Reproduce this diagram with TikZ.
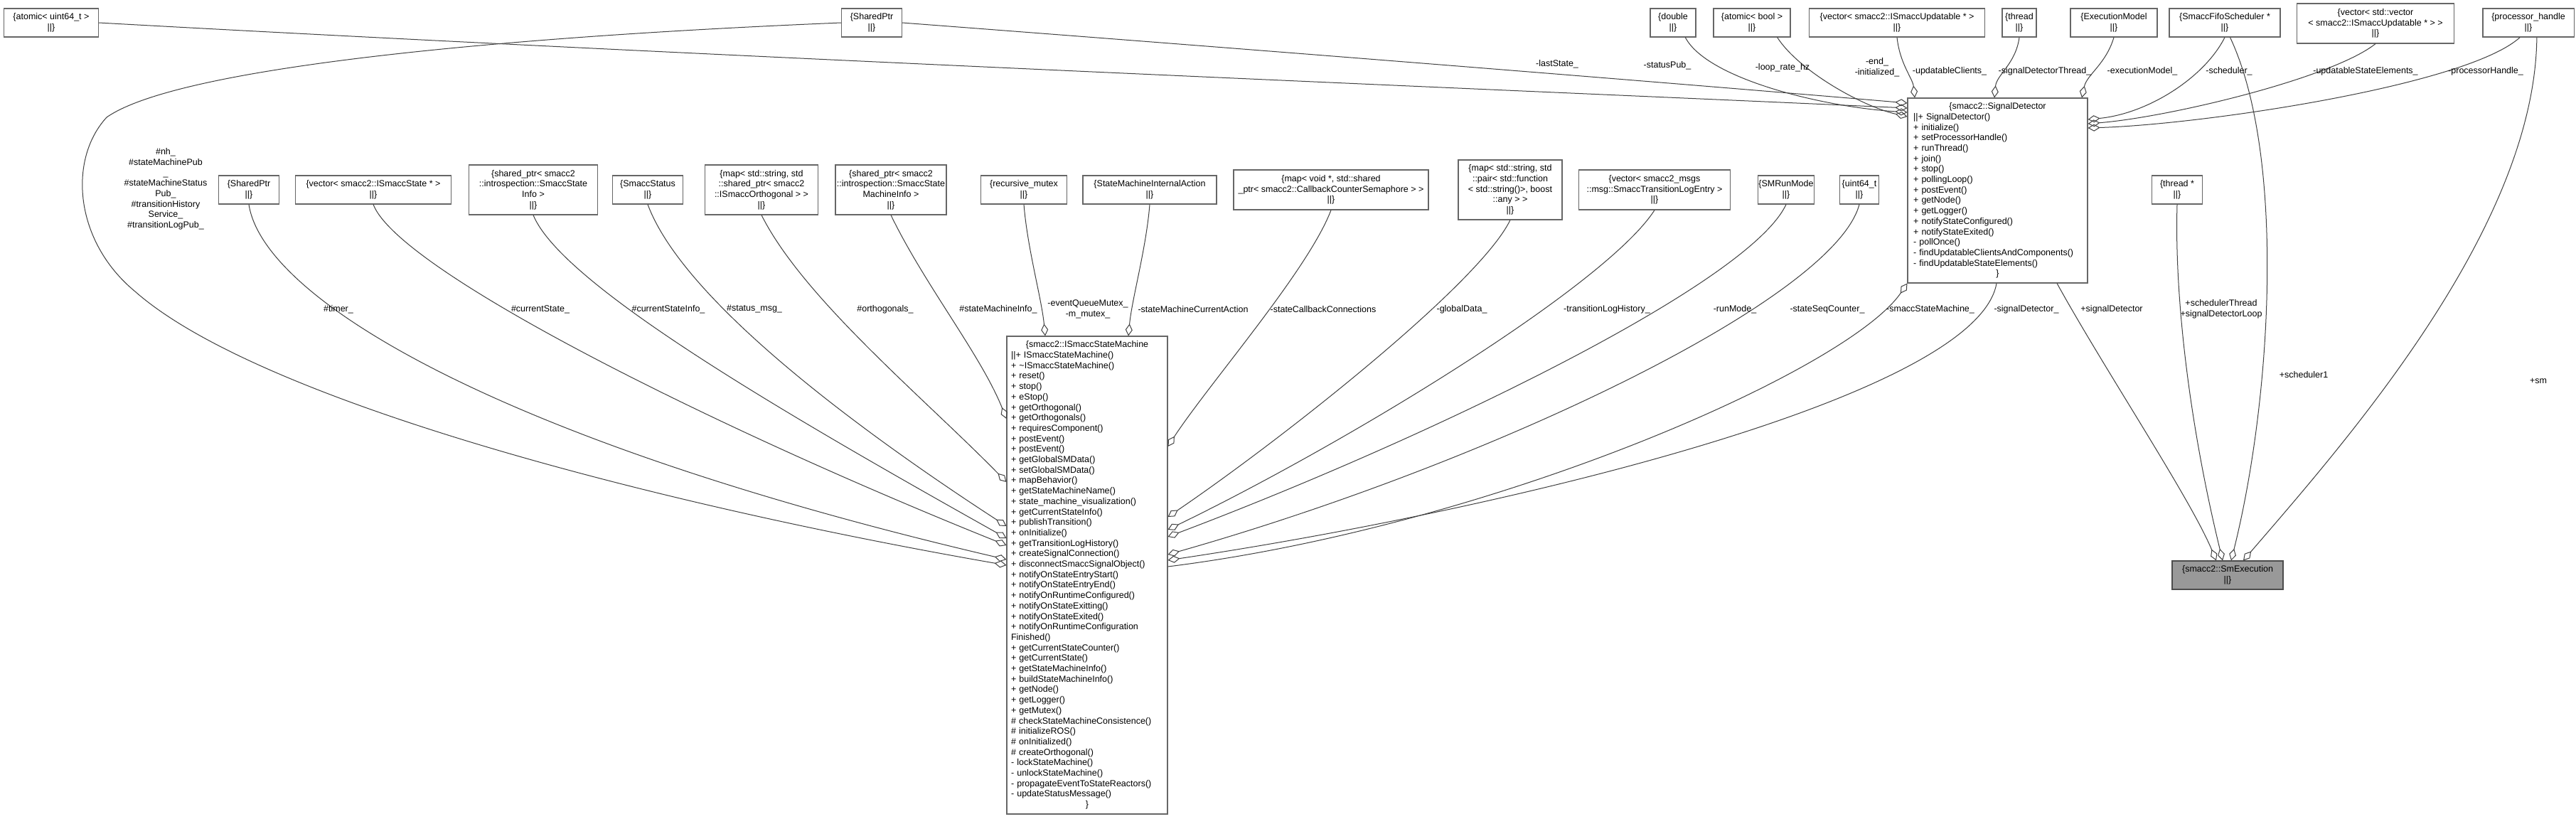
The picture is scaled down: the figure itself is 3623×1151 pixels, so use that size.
\documentclass[tikz,border=0pt]{standalone}
\usepackage{fontspec}
\setmainfont{Liberation Sans}
\usetikzlibrary{arrows.meta}
\begin{document}
\begin{tikzpicture}[x=1pt,y=-1pt,
  font=\fontsize{12.5}{14.7}\selectfont,
  box/.style={draw=black!60, line width=1.1pt, fill=white, align=center, inner sep=1pt},
  edge/.style={draw=black!75, line width=1pt},
  agg/.style={edge, -{Diamond[open,length=17pt,width=10pt,line width=1pt]}},
  lbl/.style={align=center, inner sep=0pt}]
\useasboundingbox[fill=white] (0,0) rectangle (3623,1151);

% ---------- top row ----------
\node[box, minimum width=133pt, minimum height=40pt] (nU64) at (72,32) {\{atomic< uint64\_t >\\||\}};
\node[box, minimum width=85pt, minimum height=40pt] (nSP1) at (1226,32) {\{SharedPtr\\||\}};
\node[box, minimum width=64pt, minimum height=40pt] (nDbl) at (2353,32) {\{double\\||\}};
\node[box, minimum width=108pt, minimum height=40pt] (nAB) at (2464,32) {\{atomic< bool >\\||\}};
\node[box, minimum width=247pt, minimum height=40pt] (nVU) at (2668,32) {\{vector< smacc2::ISmaccUpdatable * >\\||\}};
\node[box, minimum width=48pt, minimum height=40pt] (nThr) at (2840,32) {\{thread\\||\}};
\node[box, minimum width=122pt, minimum height=40pt] (nEM) at (2973,32) {\{ExecutionModel\\||\}};
\node[box, minimum width=156pt, minimum height=40pt] (nFifo) at (3129,32) {\{SmaccFifoScheduler *\\||\}};
\node[box, minimum width=221pt, minimum height=56pt] (nVV) at (3341,33) {\{vector< std::vector\\< smacc2::ISmaccUpdatable * > >\\||\}};
\node[box, minimum width=128pt, minimum height=40pt] (nPH) at (3556,32) {\{processor\_handle\\||\}};

% ---------- second row ----------
\node[box, minimum width=85pt, minimum height=40pt] (nSP2) at (350,267) {\{SharedPtr\\||\}};
\node[box, minimum width=219pt, minimum height=40pt] (nVS) at (525,267) {\{vector< smacc2::ISmaccState * >\\||\}};
\node[box, minimum width=181pt, minimum height=70pt] (nSSI) at (750,267) {\{shared\_ptr< smacc2\\::introspection::SmaccState\\Info >\\||\}};
\node[box, minimum width=99pt, minimum height=40pt] (nStat) at (911,267) {\{SmaccStatus\\||\}};
\node[box, minimum width=159pt, minimum height=70pt] (nOrth) at (1071,267) {\{map< std::string, std\\::shared\_ptr< smacc2\\::ISmaccOrthogonal > >\\||\}};
\node[box, minimum width=156pt, minimum height=70pt] (nSMI) at (1253,267) {\{shared\_ptr< smacc2\\::introspection::SmaccState\\MachineInfo >\\||\}};
\node[box, minimum width=121pt, minimum height=40pt] (nMtx) at (1440,267) {\{recursive\_mutex\\||\}};
\node[box, minimum width=188pt, minimum height=40pt] (nSIA) at (1617,267) {\{StateMachineInternalAction\\||\}};
\node[box, minimum width=274pt, minimum height=56pt] (nCB) at (1872,267) {\{map< void *, std::shared\\\_ptr< smacc2::CallbackCounterSemaphore > >\\||\}};
\node[box, minimum width=146pt, minimum height=84pt] (nGD) at (2124,267) {\{map< std::string, std\\::pair< std::function\\< std::string()>, boost\\::any > >\\||\}};
\node[box, minimum width=213pt, minimum height=56pt] (nTL) at (2327,267) {\{vector< smacc2\_msgs\\::msg::SmaccTransitionLogEntry >\\||\}};
\node[box, minimum width=66pt, minimum height=40pt] (nRM) at (2512,267) {\{SMRunMode\\||\}};
\node[box, minimum width=55pt, minimum height=40pt] (nU64b) at (2615,267) {\{uint64\_t\\||\}};
\node[box, minimum width=71pt, minimum height=40pt] (nThrP) at (3062,267) {\{thread *\\||\}};

\node[box, align=left, text width=237pt, inner xsep=8pt, minimum height=260pt] (nSD) at (2809.5,268) {%
\makebox[\hsize][c]{\{smacc2::SignalDetector}\\
||+~SignalDetector()\\
+~initialize()\\
+~setProcessorHandle()\\
+~runThread()\\
+~join()\\
+~stop()\\
+~pollingLoop()\\
+~postEvent()\\
+~getNode()\\
+~getLogger()\\
+~notifyStateConfigured()\\
+~notifyStateExited()\\
-~pollOnce()\\
-~findUpdatableClientsAndComponents()\\
-~findUpdatableStateElements()\\
\makebox[\hsize][c]{\}}};

% ---------- bottom ----------
\node[box, align=left, text width=214pt, inner xsep=6pt, minimum height=672pt] (ism) at (1529,809) {%
\makebox[\hsize][c]{\{smacc2::ISmaccStateMachine}\\
||+~ISmaccStateMachine()\\
+~\textasciitilde ISmaccStateMachine()\\
+~reset()\\
+~stop()\\
+~eStop()\\
+~getOrthogonal()\\
+~getOrthogonals()\\
+~requiresComponent()\\
+~postEvent()\\
+~postEvent()\\
+~getGlobalSMData()\\
+~setGlobalSMData()\\
+~mapBehavior()\\
+~getStateMachineName()\\
+~state\_machine\_visualization()\\
+~getCurrentStateInfo()\\
+~publishTransition()\\
+~onInitialize()\\
+~getTransitionLogHistory()\\
+~createSignalConnection()\\
+~disconnectSmaccSignalObject()\\
+~notifyOnStateEntryStart()\\
+~notifyOnStateEntryEnd()\\
+~notifyOnRuntimeConfigured()\\
+~notifyOnStateExitting()\\
+~notifyOnStateExited()\\
+~notifyOnRuntimeConfiguration\\
Finished()\\
+~getCurrentStateCounter()\\
+~getCurrentState()\\
+~getStateMachineInfo()\\
+~buildStateMachineInfo()\\
+~getNode()\\
+~getLogger()\\
+~getMutex()\\
\#~checkStateMachineConsistence()\\
\#~initializeROS()\\
\#~onInitialized()\\
\#~createOrthogonal()\\
-~lockStateMachine()\\
-~unlockStateMachine()\\
-~propagateEventToStateReactors()\\
-~updateStatusMessage()\\
\makebox[\hsize][c]{\}}};

\node[box, fill=black!40, draw=black!70, minimum width=156pt, minimum height=40pt] (nSmE) at (3133,809) {\{smacc2::SmExecution\\||\}};

% ---------- edges into SignalDetector ----------
\draw[agg] (nU64.east) .. controls (1000,80) and (2200,130) .. (nSD.west |- 0,152);
\draw[agg] (nSP1.east) .. controls (1900,80) and (2450,125) .. (nSD.west |- 0,145);
\draw[agg] (nDbl.-50) .. controls (2400,110) and (2560,150) .. (nSD.west |- 0,158);
\draw[agg] (nAB.-30) .. controls (2530,100) and (2620,150) .. (nSD.west |- 0,164);
\draw[agg] (nVU.south) .. controls (2672,90) and (2690,110) .. (nSD.north -| 2693,0);
\draw[agg] (nThr.south) .. controls (2835,90) and (2808,105) .. (nSD.north -| 2805,0);
\draw[agg] (nEM.south) .. controls (2962,90) and (2935,105) .. (nSD.north -| 2928,0);
\draw[agg] (nFifo.south) .. controls (3100,110) and (3020,160) .. (nSD.east |- 0,168);
\draw[agg] (nVV.south) .. controls (3280,110) and (3050,165) .. (nSD.east |- 0,174);
\draw[agg] (nPH.-120) .. controls (3470,120) and (3100,175) .. (nSD.east |- 0,180);

\node[lbl] (lLast) at (2190,90) {-lastState\_};
\node[lbl] (lStat) at (2345,92) {-statusPub\_};
\node[lbl] (lLoop) at (2507,95) {-loop\_rate\_hz};
\node[lbl] (lEnd) at (2640,95) {-end\_\\-initialized\_};
\node[lbl] (lUpd) at (2742,100) {-updatableClients\_};
\node[lbl] (lSdt) at (2876,100) {-signalDetectorThread\_};
\node[lbl] (lExe) at (3013,100) {-executionModel\_};
\node[lbl] (lSch) at (3135,100) {-scheduler\_};
\node[lbl] (lUse) at (3327,100) {-updatableStateElements\_};
\node[lbl] (lPro) at (3496,100) {-processorHandle\_};

% ---------- edges into SmExecution ----------
\draw[agg] (nSD.south -| 2893,0) .. controls (2960,520) and (3080,700) .. (nSmE.north -| 3117,0);
\draw[agg] (nThrP.south) .. controls (3058,420) and (3080,600) .. (nSmE.north -| 3126,0);
\draw[agg] (nFifo.-70) .. controls (3215,220) and (3195,560) .. (nSmE.north -| 3138,0);
\draw[agg] (nPH.-60) .. controls (3565,320) and (3300,620) .. (nSmE.north -| 3155,0);

\node[lbl] (lSdP) at (2970,435) {+signalDetector};
\node[lbl] (lThP) at (3124,435) {+schedulerThread\\+signalDetectorLoop};
\node[lbl] (lSc1) at (3240,527) {+scheduler1};
\node[lbl] (lSm) at (3570,536) {+sm};

% ---------- edges into ISmaccStateMachine ----------
\draw[agg] (nSP1.west) .. controls (700,52) and (250,95) .. (150,165)
  .. controls (95,225) and (105,340) .. (190,410)
  .. controls (360,560) and (900,705) .. (ism.west |- 0,795);
\draw[agg] (nSP2.south) .. controls (370,420) and (700,620) .. (ism.west |- 0,787);
\draw[agg] (nVS.south) .. controls (560,380) and (1000,600) .. (ism.west |- 0,767);
\draw[agg] (nSSI.south) .. controls (790,400) and (1100,580) .. (ism.west |- 0,757);
\draw[agg] (nStat.south) .. controls (960,420) and (1200,600) .. (ism.west |- 0,740);
\draw[agg] (nOrth.south) .. controls (1130,420) and (1300,560) .. (ism.west |- 0,678);
\draw[agg] (nSMI.south) .. controls (1300,400) and (1380,500) .. (ism.west |- 0,589);
\draw[agg] (nMtx.south) .. controls (1445,350) and (1465,420) .. (ism.north -| 1470,0);
\draw[agg] (nSIA.south) .. controls (1612,350) and (1592,420) .. (ism.north -| 1587,0);
\draw[agg] (nCB.south) .. controls (1840,380) and (1700,540) .. (ism.east |- 0,628);
\draw[agg] (nGD.south) .. controls (2080,400) and (1800,620) .. (ism.east |- 0,727);
\draw[agg] (nTL.south) .. controls (2260,400) and (1900,620) .. (ism.east |- 0,745);
\draw[agg] (nRM.south) .. controls (2460,400) and (2000,620) .. (ism.east |- 0,755);
\draw[agg] (nU64b.south) .. controls (2580,420) and (2100,650) .. (ism.east |- 0,780);
\draw[agg] (nSD.south -| 2808,0) .. controls (2780,560) and (2100,720) .. (ism.east |- 0,788);
\draw[agg] (ism.east |- 0,797) .. controls (2100,740) and (2600,520) .. (nSD.south west);

\node[lbl, align=center] (lNh) at (233,266) {\#nh\_\\\#stateMachinePub\hspace*{14pt}\\\_\\\#stateMachineStatus\\Pub\_\\\#transitionHistory\hspace*{20pt}\\Service\_\\\#transitionLogPub\_};
\node[lbl] (lTim) at (476,435) {\#timer\_};
\node[lbl] (lCSt) at (760,435) {\#currentState\_};
\node[lbl] (lCSI) at (940,435) {\#currentStateInfo\_};
\node[lbl] (lSMs) at (1061,435) {\#status\_msg\_};
\node[lbl] (lOrt) at (1245,435) {\#orthogonals\_};
\node[lbl] (lSMI) at (1404,435) {\#stateMachineInfo\_};
\node[lbl] (lMtx) at (1530,435) {-eventQueueMutex\_\\-m\_mutex\_};
\node[lbl] (lSIA) at (1678,435) {-stateMachineCurrentAction};
\node[lbl] (lCB) at (1861,435) {-stateCallbackConnections};
\node[lbl] (lGD) at (2056,435) {-globalData\_};
\node[lbl] (lTL) at (2260,435) {-transitionLogHistory\_};
\node[lbl] (lRM) at (2440,435) {-runMode\_};
\node[lbl] (lSSC) at (2570,435) {-stateSeqCounter\_};
\node[lbl] (lSSM) at (2715,435) {-smaccStateMachine\_};
\node[lbl] (lSD) at (2850,435) {-signalDetector\_};
\end{tikzpicture}
\end{document}
